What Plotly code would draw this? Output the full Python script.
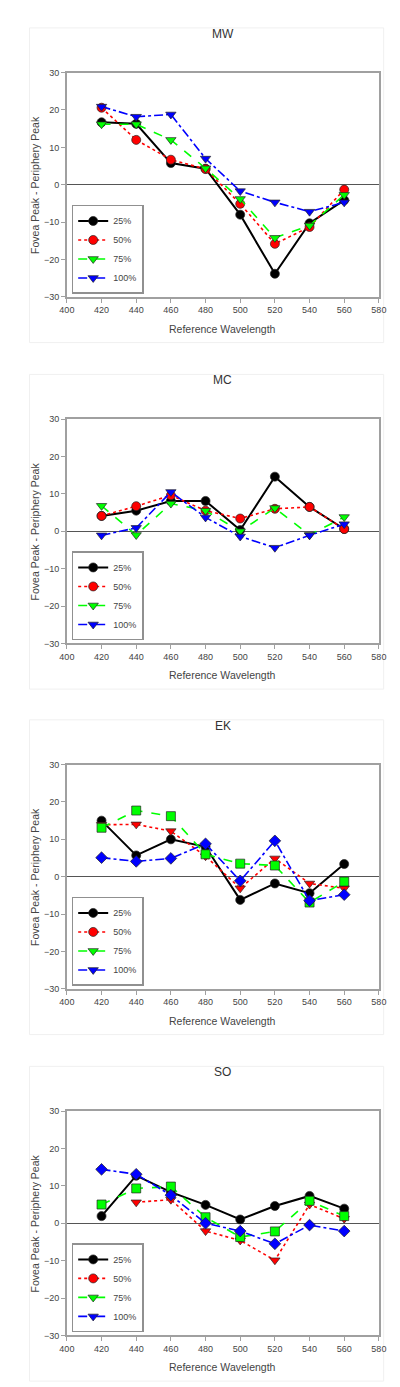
import plotly.graph_objects as go

wavelengths = [420, 440, 460, 480, 500, 520, 540, 560]
series_names = ["25%", "50%", "75%", "100%"]
panel_names = ["MW", "MC", "EK", "SO"]

mw_25 = [16.7, 16.3, 5.8, 4.3, -8.0, -23.8, -10.3, -4.1]
mw_50 = [20.6, 12.0, 6.7, 4.2, -5.1, -15.8, -11.3, -1.3]
mw_75 = [16.2, 16.2, 12.0, 4.4, -3.8, -14.2, -10.9, -2.7]
mw_100 = [20.9, 18.2, 18.8, 7.0, -1.7, -4.7, -7.2, -4.7]

mc_25 = [4.1, 5.5, 8.1, 8.1, 0.3, 14.6, 6.5, 0.6]
mc_50 = [4.1, 6.7, 9.6, 5.5, 3.4, 6.0, 6.5, 0.6]
mc_75 = [6.8, -1.0, 7.4, 5.5, 0.0, 6.2, -1.0, 3.8]
mc_100 = [-1.1, 0.9, 10.5, 3.7, -1.4, -4.4, -1.1, 1.9]

ek_25 = [15.0, 5.7, 10.0, 8.0, -6.2, -1.8, -4.4, 3.4]
ek_50 = [13.9, 14.0, 12.2, 5.5, -3.1, 4.9, -1.8, -3.1]
ek_75 = [13.1, 17.7, 16.2, 6.0, 3.5, 3.0, -6.9, -1.3]
ek_100 = [5.1, 4.1, 4.9, 8.8, -1.1, 9.6, -6.4, -4.8]

so_25 = [1.9, 12.7, 8.3, 4.9, 1.0, 4.6, 7.3, 3.9]
so_50 = [None, 5.6, 6.3, -2.1, -4.6, -9.9, 5.0, 1.2]
so_75 = [5.0, 9.3, 9.8, 1.6, -3.7, -2.2, 6.0, 1.9]
so_100 = [14.4, 13.1, 7.5, 0.0, -2.1, -5.5, -0.5, -2.1]

panel_data = [
    [mw_25, mw_50, mw_75, mw_100],
    [mc_25, mc_50, mc_75, mc_100],
    [ek_25, ek_50, ek_75, ek_100],
    [so_25, so_50, so_75, so_100],
]

colors = ["#000000", "#ff0000", "#00ff00", "#0000ff"]
dashes = ["solid", "dot", "dash", "dashdot"]
widths = [2, 1.6, 1.6, 1.6]
legend_symbols = ["circle", "circle", "triangle-down", "triangle-down"]
symbols_a = ["circle", "circle", "triangle-down", "triangle-down"]
symbols_b = ["circle", "triangle-down", "square", "diamond"]
panel_symbols = [symbols_a, symbols_a, symbols_b, symbols_b]

W, H = 400, 1387
plot_tops = [60, 409, 757, 1106]
plot_h = 226
x0, x1 = 53, 378
FONT = "Arial, Liberation Sans, sans-serif"

fig = go.Figure()
layout = dict(
    width=W, height=H, margin=dict(l=0, r=0, t=0, b=0),
    paper_bgcolor="white", plot_bgcolor="white", showlegend=True,
    font=dict(family=FONT, color="#333333"),
)
annotations = []
shapes = []

for i, name in enumerate(panel_names):
    n = "" if i == 0 else str(i + 1)
    top = plot_tops[i]
    bot = top + plot_h
    ydom = [1 - bot / H, 1 - top / H]
    xa = "x" + n
    ya = "y" + n
    leg = "legend" + n
    layout["xaxis" + n] = dict(
        domain=[x0 / W, x1 / W], anchor=ya, range=[400, 580], dtick=20, tick0=400,
        showgrid=False, zeroline=False, showline=True, mirror=True,
        linecolor="#a0a0a0", linewidth=1.5, ticks="outside", ticklen=4,
        tickcolor="#a0a0a0", tickwidth=1,
        tickfont=dict(size=9, color="#444444", family=FONT),
    )
    layout["yaxis" + n] = dict(
        domain=ydom, anchor=xa, range=[-30, 30], dtick=10, tick0=-30,
        showgrid=False, zeroline=True, zerolinecolor="#555555", zerolinewidth=1,
        showline=True, mirror=True,
        linecolor="#a0a0a0", linewidth=1.5, ticks="outside", ticklen=4,
        tickcolor="#a0a0a0", tickwidth=1,
        tickfont=dict(size=9, color="#444444", family=FONT),
    )
    layout[leg] = dict(
        x=58 / W, y=1 - (bot - 3) / H, xanchor="left", yanchor="bottom",
        bgcolor="white", bordercolor="#909090", borderwidth=1.5,
        font=dict(size=9, color="#444444", family=FONT),
        tracegroupgap=0, itemwidth=30,
    )
    # panel title
    annotations.append(dict(
        text=name, x=(x0 + x1) / 2 / W, y=1 - (top - 39) / H, xref="paper", yref="paper",
        showarrow=False, font=dict(size=12, color="#333333", family=FONT),
        xanchor="center", yanchor="middle",
    ))
    # axis titles
    annotations.append(dict(
        text="Reference Wavelength", x=(x0 + x1) / 2 / W, y=1 - (bot + 32) / H,
        xref="paper", yref="paper", showarrow=False,
        font=dict(size=10.5, color="#444444", family=FONT),
        xanchor="center", yanchor="middle",
    ))
    annotations.append(dict(
        text="Fovea Peak - Periphery Peak", x=20 / W, y=1 - (top + plot_h / 2) / H,
        xref="paper", yref="paper", showarrow=False, textangle=-90,
        font=dict(size=10.5, color="#444444", family=FONT),
        xanchor="center", yanchor="middle",
    ))
    # faint panel frame
    shapes.append(dict(
        type="rect", xref="paper", yref="paper",
        x0=14 / W, x1=383 / W, y0=1 - (top + 272) / H, y1=1 - (top - 45) / H,
        line=dict(color="#f0f0f0", width=1), fillcolor="rgba(0,0,0,0)", layer="below",
    ))

    for k, sname in enumerate(series_names):
        fig.add_trace(go.Scatter(
            x=wavelengths, y=panel_data[i][k], mode="lines+markers",
            xaxis=xa, yaxis=ya, showlegend=False, connectgaps=False,
            line=dict(color=colors[k], dash=dashes[k], width=widths[k]),
            marker=dict(symbol=panel_symbols[i][k], size=9, color=colors[k],
                        line=dict(color="#222222", width=0.7)),
            name=sname,
        ))
    for k, sname in enumerate(series_names):
        fig.add_trace(go.Scatter(
            x=[None], y=[None], mode="lines+markers", xaxis=xa, yaxis=ya,
            legend=leg, showlegend=True, name=sname,
            line=dict(color=colors[k], dash=dashes[k], width=widths[k]),
            marker=dict(symbol=legend_symbols[k], size=9, color=colors[k],
                        line=dict(color="#222222", width=0.7)),
        ))

layout["annotations"] = annotations
layout["shapes"] = shapes
fig.update_layout(**layout)
fig.write_html("out.html")
